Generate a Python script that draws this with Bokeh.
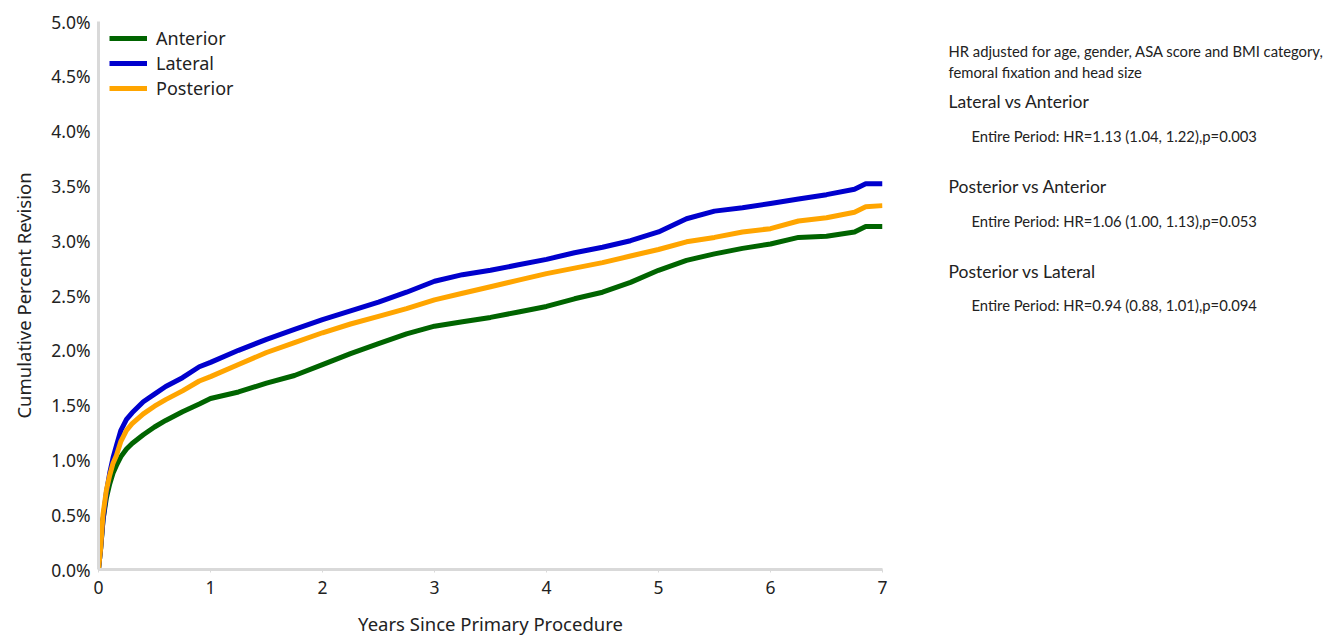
from bokeh.plotting import figure
from bokeh.layouts import row
from bokeh.models import Range1d, Legend, LegendItem, PrintfTickFormatter, FixedTicker, ColumnDataSource
from bokeh.core.properties import value
from bokeh.embed import file_html
from bokeh.resources import INLINE

years = [0, 0.02, 0.04, 0.07, 0.1, 0.13, 0.16, 0.2, 0.25, 0.3, 0.4, 0.5, 0.6, 0.75, 0.9, 1.0,
         1.25, 1.5, 1.75, 2.0, 2.25, 2.5, 2.75, 3.0, 3.25, 3.5, 3.75, 4.0, 4.25, 4.5, 4.75,
         5.0, 5.25, 5.5, 5.75, 6.0, 6.25, 6.5, 6.75, 6.85, 7.0]
anterior = [0, 0.2, 0.45, 0.65, 0.78, 0.88, 0.95, 1.03, 1.1, 1.15, 1.23, 1.3, 1.36, 1.44, 1.51, 1.56,
            1.62, 1.70, 1.77, 1.87, 1.97, 2.06, 2.15, 2.22, 2.26, 2.3, 2.35, 2.40, 2.47, 2.53, 2.62,
            2.73, 2.82, 2.88, 2.93, 2.97, 3.03, 3.04, 3.08, 3.13, 3.13]
lateral = [0, 0.2, 0.45, 0.7, 0.88, 1.02, 1.13, 1.27, 1.37, 1.43, 1.53, 1.6, 1.67, 1.75, 1.85, 1.89,
           2.0, 2.1, 2.19, 2.28, 2.36, 2.44, 2.53, 2.63, 2.69, 2.73, 2.78, 2.83, 2.89, 2.94, 3.0,
           3.08, 3.2, 3.27, 3.3, 3.34, 3.38, 3.42, 3.47, 3.52, 3.52]
posterior = [0, 0.2, 0.5, 0.72, 0.86, 0.97, 1.04, 1.17, 1.27, 1.33, 1.42, 1.49, 1.55, 1.63, 1.72, 1.76,
             1.87, 1.98, 2.07, 2.16, 2.24, 2.31, 2.38, 2.46, 2.52, 2.58, 2.64, 2.7, 2.75, 2.8, 2.86,
             2.92, 2.99, 3.03, 3.08, 3.11, 3.18, 3.21, 3.26, 3.31, 3.32]

series_names = ["Anterior", "Lateral", "Posterior"]
series_colors = ["#006400", "#0000CD", "#FFA500"]

x_ticks = [0, 1, 2, 3, 4, 5, 6, 7]
y_ticks = [0, 0.5, 1.0, 1.5, 2.0, 2.5, 3.0, 3.5, 4.0, 4.5, 5.0]

note_texts = [
    "HR adjusted for age, gender, ASA score and BMI category,",
    "femoral fixation and head size",
    "Lateral vs Anterior",
    "Entire Period: HR=1.13 (1.04, 1.22),p=0.003",
    "Posterior vs Anterior",
    "Entire Period: HR=1.06 (1.00, 1.13),p=0.053",
    "Posterior vs Lateral",
    "Entire Period: HR=0.94 (0.88, 1.01),p=0.094",
]
note_kind = ["small", "small", "head", "small", "head", "small", "head", "small"]
note_indent = [0, 0, 0, 1, 0, 1, 0, 1]

FONT = "Lato"
AX_FONT = "Noto Sans"
TXT = "#222222"

MAIN_W = 902
TOTAL_W = 1329
TOP = 21
FH = 548
BOTTOM = 64
p = figure(width=MAIN_W, output_backend="svg", toolbar_location=None,
           x_range=Range1d(0, 7), y_range=Range1d(0, 5),
           frame_width=784, frame_height=FH,
           min_border_left=98, min_border_top=TOP, min_border_bottom=BOTTOM,
           min_border_right=MAIN_W - 98 - 784)
p.outline_line_color = None
p.xgrid.visible = False
p.ygrid.visible = False

for ax in (p.xaxis, p.yaxis):
    ax.axis_line_color = "#d9d9d9"
    ax.axis_line_width = 3
    ax.major_tick_line_color = "#d9d9d9"
    ax.major_tick_in = 0
    ax.major_tick_out = 3
    ax.minor_tick_line_color = None
    ax.major_label_text_font = AX_FONT
    ax.major_label_text_font_size = "17.5px"
    ax.major_label_text_color = TXT
    ax.axis_label_text_font = AX_FONT
    ax.axis_label_text_font_size = "18.5px"
    ax.axis_label_text_font_style = "normal"
    ax.axis_label_text_color = TXT

p.yaxis.major_tick_out = 0
p.xaxis.ticker = FixedTicker(ticks=x_ticks)
p.yaxis.ticker = FixedTicker(ticks=y_ticks)
p.yaxis.formatter = PrintfTickFormatter(format="%.1f%%")
p.xaxis.axis_label = "Years Since Primary Procedure"
p.yaxis.axis_label = "Cumulative Percent Revision"
p.xaxis.major_label_standoff = 8
p.yaxis.major_label_standoff = 8
p.xaxis.axis_label_standoff = 14
p.yaxis.axis_label_standoff = 12

items = []
for name, col, vals in zip(series_names, series_colors, [anterior, lateral, posterior]):
    r = p.line(years, vals, line_color=col, line_width=5, line_join="round")
    items.append(LegendItem(label=name, renderers=[r]))

legend = Legend(items=items, margin=0, padding=0,
                glyph_width=38, glyph_height=20, label_height=20, spacing=1,
                label_standoff=9, label_text_font=AX_FONT, label_text_font_size="18px",
                label_text_color=TXT, border_line_color=None, background_fill_alpha=0)
legend.location = (11, 469)
p.add_layout(legend)

# side panel with the hazard-ratio notes; its frame matches the main frame vertically
SIDE_W = TOTAL_W - MAIN_W
side = figure(width=SIDE_W, output_backend="svg", toolbar_location=None,
              frame_width=SIDE_W, frame_height=FH,
              x_range=Range1d(0, SIDE_W), y_range=Range1d(TOP + FH, TOP),
              min_border_left=0, min_border_right=0, min_border_top=TOP, min_border_bottom=BOTTOM,
              outline_line_color=None)
side.axis.visible = False
side.grid.visible = False
ys = [50, 71, 101, 135, 186, 220, 271, 304]
xs = [46 + 23 * i for i in note_indent]
sizes = ["14.8px" if k == "small" else "17.5px" for k in note_kind]
src = ColumnDataSource(dict(x=xs, y=ys, t=note_texts, s=sizes))
side.text(x="x", y="y", text="t", source=src, text_font=value(FONT), text_font_size="s",
          text_color=TXT, text_baseline="middle", text_align="left")

layout = row(p, side, spacing=0)
open("out.html", "w").write(file_html(layout, INLINE))
